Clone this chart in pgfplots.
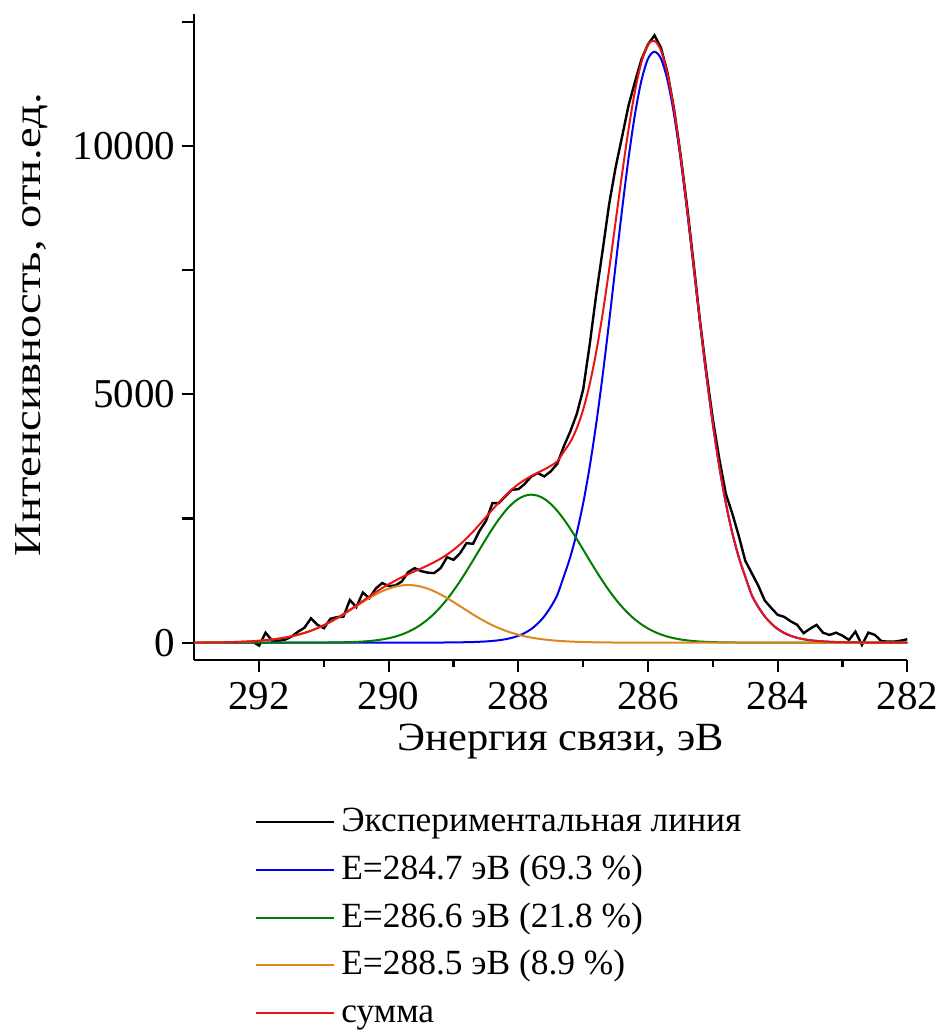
\documentclass[border=0pt]{standalone}
\usepackage{fontspec}
\setmainfont{Liberation Serif}
\usepackage{pgfplots}
\pgfplotsset{compat=1.18}
\usepackage{pgfplotstable}

\definecolor{fitblue}{RGB}{0,0,240}
\definecolor{fitgreen}{RGB}{0,125,0}
\definecolor{fitorange}{RGB}{222,135,30}
\definecolor{fitred}{RGB}{235,20,20}

% C 1s spectrum: measured counts and the three fitted components with their sum
\pgfplotstableread{
x exp blue green orange sum
293.0 nan 0 0 1 1
292.9 nan 0 0 2 2
292.8 nan 0 0 3 3
292.7 nan 0 0 4 4
292.6 nan 0 0 6 6
292.5 nan 0 0 9 9
292.4 nan 0 0 12 12
292.3 nan 0 0 16 16
292.2 nan 0 0 22 22
292.1 20 0 0 29 29
292.0 -60 0 0 38 38
291.9 200 0 0 49 49
291.8 40 0 0 63 63
291.7 40 0 0 80 80
291.6 60 0 0 101 101
291.5 120 0 0 127 127
291.4 220 0 0 158 158
291.3 300 0 0 196 196
291.2 490 0 0 240 240
291.1 357 0 1 292 293
291.0 290 0 2 350 352
290.9 480 0 3 416 419
290.8 512 0 4 489 493
290.7 520 0 7 567 574
290.6 860 0 10 650 660
290.5 714 0 15 733 748
290.4 1010 0 22 817 839
290.3 895 0 32 897 929
290.2 1090 0 46 970 1016
290.1 1200 0 64 1035 1099
290.0 1140 0 89 1088 1177
289.9 1150 0 121 1127 1248
289.8 1230 0 164 1152 1316
289.7 1420 0 217 1160 1377
289.6 1500 0 284 1152 1436
289.5 1440 0 366 1127 1493
289.4 1410 1 465 1088 1554
289.3 1400 2 582 1035 1619
289.2 1500 2 719 970 1691
289.1 1720 3 874 897 1774
289.0 1667 4 1048 817 1869
288.9 1800 6 1238 733 1977
288.8 2004 9 1442 650 2101
288.7 1990 12 1655 567 2234
288.6 2250 17 1873 489 2379
288.5 2450 24 2088 416 2528
288.4 2810 34 2295 350 2679
288.3 2810 48 2486 292 2826
288.2 2950 68 2653 240 2961
288.1 3079 97 2792 196 3085
288.0 3090 138 2895 158 3191
287.9 3200 195 2958 127 3280
287.8 3347 275 2980 101 3356
287.7 3415 385 2958 80 3423
287.6 3347 530 2895 63 3488
287.5 3450 720 2792 49 3561
287.4 3600 960 2653 38 3651
287.3 3950 1330 2486 29 3845
287.2 4250 1720 2295 22 4037
287.1 4600 2210 2088 16 4314
287.0 5100 2810 1873 12 4695
286.9 6000 3540 1655 9 5204
286.8 7000 4400 1442 6 5848
286.7 7900 5380 1238 4 6622
286.6 8830 6460 1048 3 7511
286.5 9570 7600 874 2 8476
286.4 10190 8720 719 1 9440
286.3 10820 9760 582 0 10342
286.2 11300 10650 465 0 11115
286.1 11750 11330 366 0 11696
286.0 12050 11760 284 0 12044
285.9 12230 11900 217 0 12117
285.8 11980 11760 164 0 11924
285.7 11480 11330 121 0 11451
285.6 10760 10650 89 0 10739
285.5 9850 9760 64 0 9824
285.4 8820 8720 46 0 8766
285.3 7680 7600 32 0 7632
285.2 6500 6460 22 0 6482
285.1 5450 5380 15 0 5395
285.0 4500 4400 10 0 4410
284.9 3700 3540 7 0 3547
284.8 3000 2810 4 0 2814
284.7 2600 2210 3 0 2213
284.6 2150 1720 2 0 1722
284.5 1650 1330 1 0 1331
284.4 1400 960 0 0 960
284.3 1150 720 0 0 720
284.2 850 530 0 0 530
284.1 700 385 0 0 385
284.0 560 275 0 0 275
283.9 520 195 0 0 195
283.8 430 138 0 0 138
283.7 360 97 0 0 97
283.6 190 68 0 0 68
283.5 280 48 0 0 48
283.4 357 34 0 0 34
283.3 200 24 0 0 24
283.2 155 17 0 0 17
283.1 200 12 0 0 12
283.0 140 9 0 0 9
282.9 54 6 0 0 6
282.8 222 4 0 0 4
282.7 -46 3 0 0 3
282.6 202 2 0 0 2
282.5 155 2 0 0 2
282.4 30 1 0 0 1
282.3 20 1 0 0 1
282.2 20 0 0 0 0
282.1 40 0 0 0 0
282.0 68 0 0 0 0
}\spectrum

\begin{document}
\begin{tikzpicture}
\path[use as bounding box] (-97.15bp,-186bp) rectangle (374.35bp,330bp);
\begin{axis}[
  scale only axis, width=356.5bp, height=323bp,
  x dir=reverse, xmin=282, xmax=293, ymin=-350, ymax=12660,
  axis x line*=bottom, axis y line*=left,
  axis line style={line width=1.2bp},
  xtick={282,284,...,292}, minor xtick={283,285,...,291},
  ytick={0,5000,10000}, extra y ticks={2500,7500,12500}, extra y tick labels={},
  scaled y ticks=false,
  tick align=outside, major tick length=6bp, minor tick length=3.5bp,
  every tick/.style={black, line width=1.1bp},
  /pgf/number format/.cd, 1000 sep={}, assume math mode=true, /pgfplots/.cd,
  every tick label/.append style={font=\fontsize{20.5bp}{24bp}\selectfont},
  xticklabel style={yshift=-1.5bp},
  xlabel={\scalebox{1.06}[1]{Энергия связи, эВ}},
  xlabel style={at={(axis description cs:0.514,-0.14)}, anchor=base,
    font=\fontsize{20bp}{24bp}\selectfont},
  ylabel={\scalebox{1.23}[1]{Интенсивность, отн.ед.}},
  ylabel style={at={(axis description cs:-0.2276,0.519)}, anchor=center,
    font=\fontsize{19bp}{23bp}\selectfont},
  legend style={at={(axis description cs:0.0851,-0.2221)}, anchor=north west,
    draw=none, fill=none, inner sep=0pt, outer sep=0pt,
    row sep=5.4bp, column sep=3bp,
    font=\fontsize{17.7bp}{22bp}\selectfont,
    nodes={inner sep=0pt, text height=14bp, text depth=4.5bp}},
  legend cell align=left,
  legend image code/.code={\draw[#1] (0bp,0bp) -- (39bp,0bp);},
]
\addplot[black, line width=1.2bp] table[x=x, y=exp] {\spectrum};
\addlegendentry{Экспериментальная линия}
\addplot[fitblue, line width=1bp, smooth] table[x=x, y=blue] {\spectrum};
\addlegendentry{E=284.7 эВ (69.3 \%)}
\addplot[fitgreen, line width=1bp, smooth] table[x=x, y=green] {\spectrum};
\addlegendentry{E=286.6 эВ (21.8 \%)}
\addplot[fitorange, line width=1bp, smooth] table[x=x, y=orange] {\spectrum};
\addlegendentry{E=288.5 эВ (8.9 \%)}
\addplot[fitred, line width=1bp, smooth] table[x=x, y=sum] {\spectrum};
\addlegendentry{сумма}
\end{axis}
\end{tikzpicture}
\end{document}
